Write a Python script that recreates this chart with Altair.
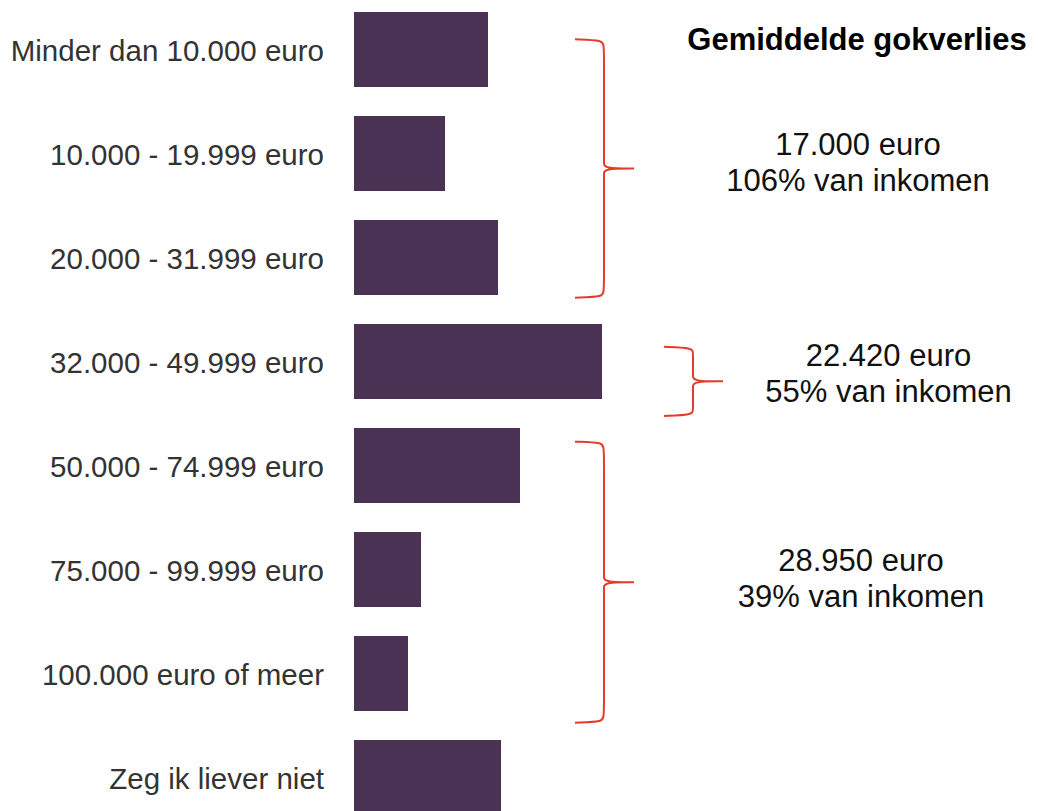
import altair as alt
import pandas as pd

# ---- data -------------------------------------------------------------
categories = [
    "Minder dan 10.000 euro",
    "10.000 - 19.999 euro",
    "20.000 - 31.999 euro",
    "32.000 - 49.999 euro",
    "50.000 - 74.999 euro",
    "75.000 - 99.999 euro",
    "100.000 euro of meer",
    "Zeg ik liever niet",
]
values = [13.4, 9.1, 14.4, 24.8, 16.6, 6.7, 5.4, 14.7]

title_text = "Gemiddelde gokverlies"
group_amounts = ["17.000 euro", "22.420 euro", "28.950 euro"]
group_shares = ["106% van inkomen", "55% van inkomen", "39% van inkomen"]
# brace extents, in row units (row 0 = first category)
brace_top = [-0.098, 2.858, 3.771]
brace_bottom = [2.387, 3.524, 6.473]
brace_spine = [25.0, 33.9, 25.0]
# annotation text anchors
text_x = [50.4, 53.45, 50.7]
text_y = [1.014, 3.040, 5.012]

# ---- layout helpers ---------------------------------------------------
W, H = 1022, 803
PX_X = 0.1          # value units per pixel (x)
PX_Y = 1 / 104      # row units per pixel (y)
x_min = -346 * PX_X
x_dom = [x_min, x_min + W * PX_X]
y_min = -41.5 * PX_Y
y_dom = [y_min, y_min + H * PX_Y]

BAR = "#4a3254"
RED = "#e53b2c"
FONT = "Liberation Sans"

xs = alt.Scale(domain=x_dom, nice=False, zero=False)
ys = alt.Scale(domain=y_dom, nice=False, zero=False, reverse=True)

half = 75 * PX_Y / 2
bars = pd.DataFrame({
    "category": categories,
    "value": values,
    "row": list(range(len(categories))),
})
bars["y0"] = bars["row"] - half
bars["y1"] = bars["row"] + half
bars["base"] = 0.0

bar_layer = alt.Chart(bars).mark_bar(color=BAR, clip=True).encode(
    x=alt.X("base:Q", scale=xs, axis=None),
    x2="value:Q",
    y=alt.Y("y0:Q", scale=ys, axis=None),
    y2="y1:Q",
)

label_layer = alt.Chart(bars).mark_text(
    align="right", baseline="alphabetic", dx=-30, dy=11,
    font=FONT, fontSize=29.5, color="#333333",
).encode(
    x=alt.X("base:Q", scale=xs, axis=None),
    y=alt.Y("row:Q", scale=ys, axis=None),
    text="category:N",
)

# braces
pts = []
for g in range(len(brace_top)):
    s, t, b = brace_spine[g], brace_top[g], brace_bottom[g]
    c = (t + b) / 2
    e = s - 29 * PX_X
    tip = s + 30 * PX_X
    k = 6 * PX_Y
    seq = [(e, t), (e, t), (s, t + 1 * PX_Y), (s, t + k), (s, c - k), (s, c - k), (s, c),
           (tip, c), (tip, c), (tip, c), (s, c), (s, c + k), (s, c + k), (s, b - k),
           (s, b - 1 * PX_Y), (e, b), (e, b)]
    for i, (px, py) in enumerate(seq):
        pts.append({"g": g, "i": i, "x": px, "y": py})
brace_df = pd.DataFrame(pts)

brace_layer = alt.Chart(brace_df).mark_line(
    color=RED, strokeWidth=2, interpolate="basis"
).encode(
    x=alt.X("x:Q", scale=xs, axis=None),
    y=alt.Y("y:Q", scale=ys, axis=None),
    detail="g:N",
    order="i:Q",
)

ann_rows = []
for g in range(len(group_amounts)):
    ann_rows.append({"x": text_x[g], "y": text_y[g], "t": group_amounts[g]})
    ann_rows.append({"x": text_x[g], "y": text_y[g] + 36 * PX_Y, "t": group_shares[g]})
ann_df = pd.DataFrame(ann_rows)

ann_layer = alt.Chart(ann_df).mark_text(
    align="center", baseline="alphabetic", font=FONT, fontSize=31, color="#111111",
).encode(
    x=alt.X("x:Q", scale=xs, axis=None),
    y=alt.Y("y:Q", scale=ys, axis=None),
    text="t:N",
)

title_df = pd.DataFrame({"x": [50.3], "y": [0.0], "t": [title_text]})
title_layer = alt.Chart(title_df).mark_text(
    align="center", baseline="alphabetic", font=FONT, fontSize=31,
    fontWeight="bold", color="#000000",
).encode(
    x=alt.X("x:Q", scale=xs, axis=None),
    y=alt.Y("y:Q", scale=ys, axis=None),
    text="t:N",
)

chart = alt.layer(
    bar_layer, label_layer, brace_layer, ann_layer, title_layer
).properties(
    width=W, height=H, padding=0, autosize="none",
).configure_view(stroke=None)

chart.save("out.html", embed_options={"renderer": "svg", "actions": False})
